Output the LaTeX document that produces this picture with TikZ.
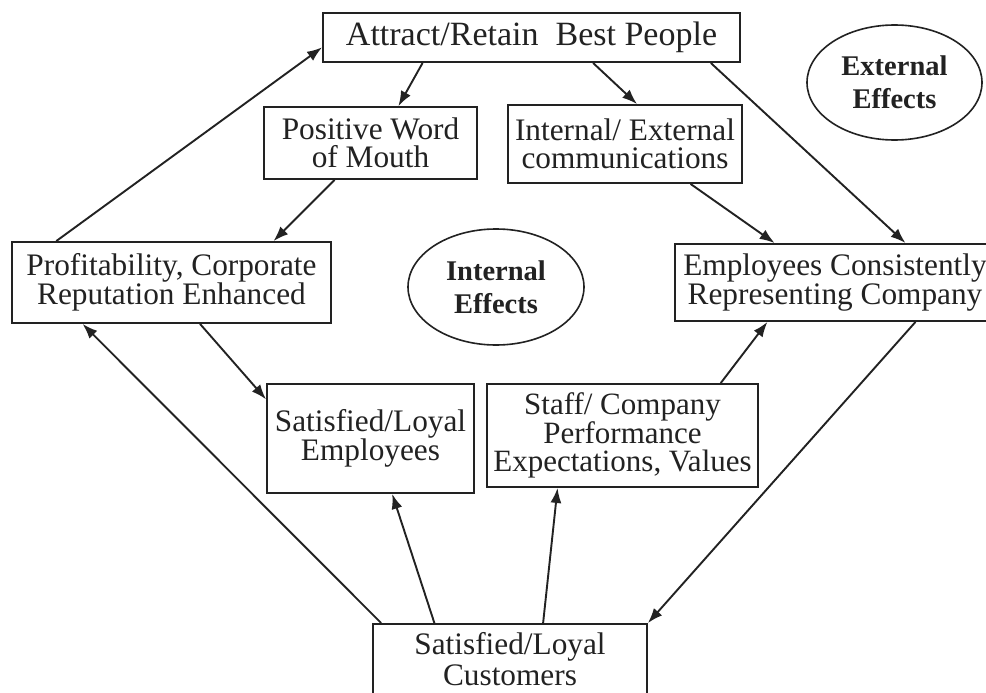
\documentclass[tikz,border=0pt]{standalone}
\usepackage{fontspec}
\setmainfont{Liberation Serif}
\usetikzlibrary{arrows.meta,shapes.geometric,calc}
\definecolor{ink}{HTML}{222222}
\tikzset{
  box/.style={draw=ink, line width=1.9pt, rectangle, inner sep=0pt, align=center,
    text=ink, font=\fontsize{31.3}{28.5}\selectfont},
  oval/.style={draw=ink, line width=1.6pt, ellipse, inner sep=0pt, align=center,
    text=ink, font=\fontsize{28.5}{33}\selectfont\bfseries},
  conn/.style={draw=ink, line width=1.9pt, -{Latex[length=15pt,width=11pt]}}
}
\begin{document}
\begin{tikzpicture}[x=1pt,y=-1pt]
\clip (0,0) rectangle (986,693);
\fill[white] (0,0) rectangle (986,693);

\node[box, minimum width=417pt, minimum height=49pt, font=\fontsize{34}{30}\selectfont] (attract) at (531.5,37.5) {Attract/Retain\ \ Best People};
\node[box, minimum width=213pt, minimum height=72pt] (pwom) at (370.5,143) {Positive Word\\of Mouth};
\node[box, minimum width=234pt, minimum height=78pt] (iec) at (625,144) {Internal/ External\\communications};
\node[box, minimum width=319pt, minimum height=81pt] (prof) at (171.5,282.5) {Profitability, Corporate\\Reputation Enhanced};
\node[box, minimum width=320pt, minimum height=77pt] (ecr) at (835,282.5) {Employees Consistently\\Representing Company};
\node[box, minimum width=207pt, minimum height=109pt] (sle) at (370.5,438.5) {Satisfied/Loyal\\Employees};
\node[box, minimum width=271pt, minimum height=103pt, font=\fontsize{31}{28}\selectfont] (staff) at (622.5,435.5) {Staff/ Company\\Performance\\Expectations, Values};
\node[box, minimum width=274pt, minimum height=70pt, font=\fontsize{31.3}{31}\selectfont] (cust) at (510,659) {Satisfied/Loyal\\Customers};

\node[oval, minimum width=176pt, minimum height=116pt] (ieff) at (496,287) {Internal\\Effects};
\node[oval, minimum width=175pt, minimum height=115pt] (eeff) at (894.5,82.5) {External\\Effects};

% connectors
\draw[conn] ($(prof.north west)!0.141!(prof.north east)$) -- ($(attract.north west)!0.694!(attract.south west)$);
\draw[conn] ($(attract.south west)!0.24!(attract.south east)$) -- ($(pwom.north west)!0.63!(pwom.north east)$);
\draw[conn] ($(pwom.south west)!0.333!(pwom.south east)$) -- ($(prof.north west)!0.818!(prof.north east)$);
\draw[conn] ($(attract.south west)!0.647!(attract.south east)$) -- ($(iec.north west)!0.551!(iec.north east)$);
\draw[conn] ($(attract.south west)!0.928!(attract.south east)$) -- ($(ecr.north west)!0.719!(ecr.north east)$);
\draw[conn] ($(iec.south west)!0.778!(iec.south east)$) -- ($(ecr.north west)!0.3125!(ecr.north east)$);
\draw[conn] ($(prof.south west)!0.589!(prof.south east)$) -- ($(sle.north west)!0.147!(sle.south west)$);
\draw[conn] ($(cust.north west)!0.033!(cust.north east)$) -- ($(prof.south west)!0.223!(prof.south east)$);
\draw[conn] ($(cust.north west)!0.226!(cust.north east)$) -- ($(sle.south west)!0.604!(sle.south east)$);
\draw[conn] ($(cust.north west)!0.62!(cust.north east)$) -- ($(staff.south west)!0.262!(staff.south east)$);
\draw[conn] ($(staff.north west)!0.86!(staff.north east)$) -- ($(ecr.south west)!0.29!(ecr.south east)$);
\draw[conn] ($(ecr.south west)!0.75!(ecr.south east)$) -- (cust.north east);
\end{tikzpicture}
\end{document}
